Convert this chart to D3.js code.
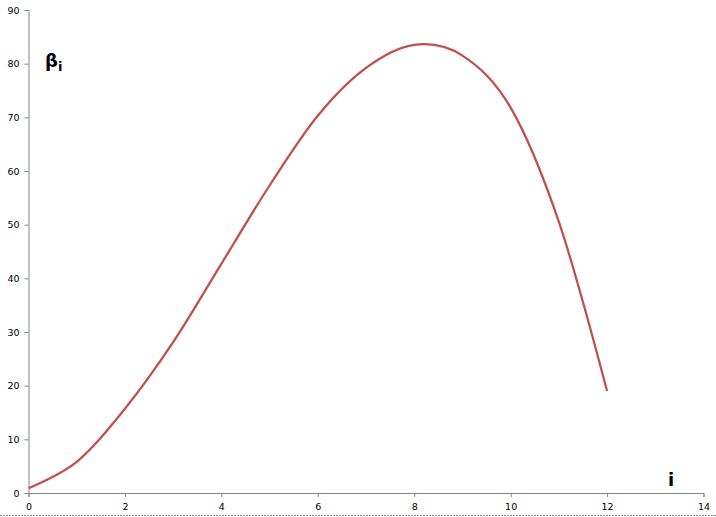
<!DOCTYPE html>
<html>
<head>
<meta charset="utf-8">
<script src="https://cdn.jsdelivr.net/npm/d3@7"></script>
<style>
  body { margin: 0; background: #fff; }
  .tick text { font-family: "DejaVu Sans", sans-serif; font-size: 9.5px; fill: #000; }
</style>
</head>
<body>
<div id="chart-area"></div>
<script>
// data
const iValues = [0, 1, 2, 3, 4, 5, 6, 7, 8, 9, 10, 11, 12];
const betaValues = [0.9, 5.8, 15.7, 28.1, 42.7, 57.3, 70.3, 79.2, 83.5, 81.5, 71.8, 50.5, 19.0];
const xTicks = [0, 2, 4, 6, 8, 10, 12, 14];
const yTicks = [0, 10, 20, 30, 40, 50, 60, 70, 80, 90];

const totalWidth = 716, totalHeight = 517;
const margin = {LEFT: 28.5, TOP: 10, RIGHT: 12.5, BOTTOM: 24 },
      width = totalWidth - margin.LEFT - margin.RIGHT,
      height = totalHeight - margin.TOP - margin.BOTTOM;

let svg = d3.select("#chart-area").append("svg")
            .attr("width", totalWidth)
            .attr("height", totalHeight);

// outer border of the chart area (only bottom edge visible)
svg.append("line")
   .attr("x1", 0).attr("x2", totalWidth)
   .attr("y1", 515.5).attr("y2", 515.5)
   .attr("stroke", "#8c8c8c")
   .attr("stroke-dasharray", "2,1");

let chart = svg.append("g")
               .attr("transform", `translate(${margin.LEFT}, ${margin.TOP})`);

var x = d3.scaleLinear().domain([0, 14]).range([0, width]),
    y = d3.scaleLinear().domain([0, 90]).range([height, 0]);

// axes
var axisB = d3.axisBottom(x).tickValues(xTicks).tickSizeInner(4).tickSizeOuter(4).tickPadding(6);
var axisL = d3.axisLeft(y).tickValues(yTicks).tickSizeInner(4).tickSizeOuter(4).tickPadding(5);

let gx = chart.append("g")
     .attr("transform", `translate(0,${height})`)
     .call(axisB);
let gy = chart.append("g")
     .call(axisL);

[gx, gy].forEach(function(g){
  g.selectAll("path, line").attr("stroke", "#868686").attr("stroke-width", 1);
});
gy.selectAll(".tick text").attr("dy", "0.35em");

// the curve (smoothed like a spreadsheet line)
var line = d3.line()
             .x(function(d, i){ return x(iValues[i]); })
             .y(function(d){ return y(d); })
             .curve(d3.curveCardinal.tension(0));

chart.append("path")
     .datum(betaValues)
     .attr("d", line)
     .attr("fill", "none")
     .attr("stroke", "#C0504D")
     .attr("stroke-width", 2.25)
     .attr("stroke-linejoin", "round");

// labels
let yLabel = svg.append("text")
   .attr("x", 45)
   .attr("y", 67)
   .attr("font-family", "DejaVu Sans, sans-serif")
   .attr("font-weight", "bold")
   .attr("font-size", "18px")
   .text("β");
yLabel.append("tspan")
   .attr("font-size", "13px")
   .attr("dy", "4")
   .text("i");

svg.append("text")
   .attr("x", 668)
   .attr("y", 486)
   .attr("font-family", "DejaVu Sans, sans-serif")
   .attr("font-weight", "bold")
   .attr("font-size", "18px")
   .text("i");
</script>
</body>
</html>
